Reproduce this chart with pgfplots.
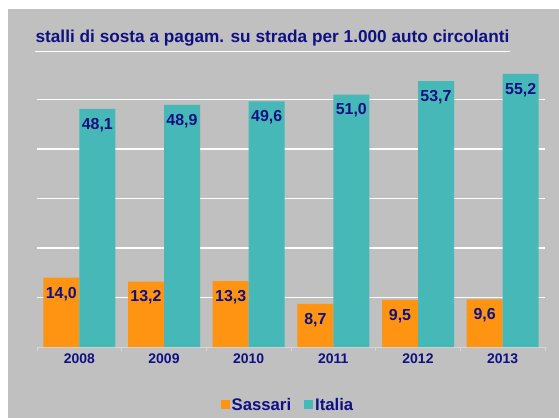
\documentclass[border=0pt]{standalone}
\usepackage{pgfplots}
\pgfplotsset{compat=1.18}
\usepackage{fontspec}
\setmainfont{Liberation Sans}
\definecolor{bggray}{RGB}{192,192,192}
\definecolor{navy}{RGB}{16,16,128}
\definecolor{sorange}{RGB}{255,148,18}
\definecolor{iteal}{RGB}{71,184,184}
\definecolor{axgray}{RGB}{215,215,215}
\begin{document}
\begin{tikzpicture}
\path[use as bounding box] (0,0) rectangle (559bp,-418bp);
\fill[white] (0,0) rectangle (559bp,-418bp);
\fill[bggray] (8bp,-9bp) rectangle (559bp,-418bp);
\node[font=\bfseries\fontsize{17.3}{19}\selectfont, text=navy, anchor=center] at (272.5bp,-38bp) {stalli di sosta a pagam. su strada per 1.000 auto circolanti};
\draw[white, line width=1bp] (35bp,-51bp) -- (510bp,-51bp);
\begin{axis}[
  at={(37bp,-347bp)}, anchor=south west,
  width=508bp, height=297bp, scale only axis,
  ymin=0, ymax=60, xmin=-0.5, xmax=5.5,
  ybar=0pt, bar width=36bp,
  axis x line*=bottom, axis y line*=left,
  x axis line style={axgray, line width=1bp, -},
  y axis line style={draw=none},
  xtick=data, xticklabels={2008,2009,2010,2011,2012,2013},
  xticklabel style={font=\bfseries\fontsize{14}{16}\selectfont, text=navy, yshift=-3bp},
  major tick length=0pt,
  minor xtick={-0.5,0.5,...,5.5}, minor tick length=4bp,
  tick align=outside, minor tick style={axgray, line width=1bp},
  ytick={10,20,30,40,50}, ymajorgrids,
  major grid style={white, line width=1.2bp},
  yticklabels={},
  /pgf/number format/.cd, fixed, fixed zerofill, precision=1, use comma, assume math mode=true,
  /pgfplots/.cd,
  nodes near coords,
  every node near coord/.append style={anchor=north, inner sep=0pt, yshift=-9bp, font=\bfseries\fontsize{16}{18}\selectfont, text=navy},
  legend columns=2,
  legend style={at={(0.494,-0.195)}, anchor=center, draw=none, fill=none, font=\bfseries\fontsize{16.8}{18}\selectfont, text=navy, /tikz/every even column/.append style={column sep=11bp}},
  legend image code/.code={\fill[#1] (0bp,-4.5bp) rectangle (9bp,4.5bp);},
  clip=false,
]
\addplot[fill=sorange, draw=none] coordinates {(0,14.0) (1,13.2) (2,13.3) (3,8.7) (4,9.5) (5,9.6)};
\addplot[fill=iteal, draw=none] coordinates {(0,48.1) (1,48.9) (2,49.6) (3,51.0) (4,53.7) (5,55.2)};
\legend{Sassari,Italia}
\end{axis}
\end{tikzpicture}
\end{document}
